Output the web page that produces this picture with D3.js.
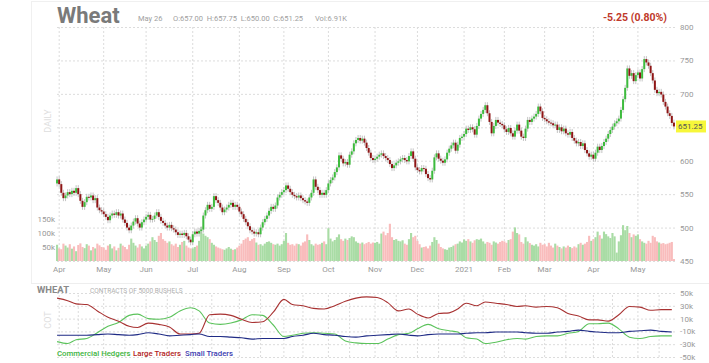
<!DOCTYPE html>
<html>
<head>
<meta charset="utf-8">
<script src="https://cdn.jsdelivr.net/npm/d3@7"></script>
<style>
  body { margin: 0; background: #fff; font-family: Roboto, "Liberation Sans", sans-serif; }
  .grid line { stroke: #dcdcdc; stroke-dasharray: 2,2; }
  .grid path { display: none; }
  .lbl path, .lbl line { display: none; }
  .lbl text { fill: #999; font-size: 8px; font-family: Roboto, sans-serif; }
</style>
</head>
<body>
<script>
const width = 709;
const height = 363;

// trading calendar
const firstDay = "2020-03-31";
const lastDay = "2021-05-26";
const holidays = ["2020-04-10", "2020-05-25", "2020-07-03", "2020-09-07", "2020-11-26",
  "2020-12-25", "2021-01-01", "2021-01-18", "2021-02-15", "2021-04-02"];
const monthLabels = ["Apr", "May", "Jun", "Jul", "Aug", "Sep", "Oct", "Nov", "Dec", "2021", "Feb", "Mar", "Apr", "May"];

// daily closes, month by month
const closes = [
  572,565,552,544,548,553,550,555,552,559,550,540,531,538,546,545,548,541,544,530,526,524, // Apr
  520,516,511,518,521,519,523,518,521,512,507,500,496,503,509,514,506,500,508,512,          // May
  516,519,512,513,518,523,516,510,507,503,500,504,499,497,493,489,491,489,492,487,482,478,  // Jun
  490,494,491,495,497,518,526,534,528,531,547,541,537,530,523,527,530,534,537,531,534,531,  // Jul
  524,520,513,508,502,496,494,491,493,490,500,508,513,518,525,531,528,533,545,549,553,      // Aug
  556,563,558,553,549,547,545,548,544,541,539,537,545,552,572,561,556,549,552,549,556,      // Sep
  566,571,575,583,590,608,603,596,598,594,609,614,626,631,634,630,633,627,619,612,604,601,  // Oct
  603,606,609,611,607,604,601,595,589,593,597,599,602,604,601,599,607,614,603,590,          // Nov
  586,584,589,588,580,574,572,585,605,611,603,600,597,602,612,618,623,627,615,624,634,636,  // Dec
  640,648,646,650,647,639,652,663,670,676,683,671,658,641,652,661,657,655,653,              // Jan
  647,643,649,641,636,645,654,645,636,634,648,661,658,663,666,670,681,674,664,              // Feb
  662,659,657,656,653,654,646,650,644,648,641,639,643,634,630,626,628,622,626,616,611,606,609, // Mar
  603,612,621,616,622,628,633,640,646,651,656,659,663,676,692,709,738,727,731,719,728,      // Apr
  732,723,737,752,747,742,731,720,706,701,703,699,688,681,671,667,656.5,651.25              // May
];
const firstOpen = 566;
const lastOpen = 657;

// daily volume, thousands of contracts
const volumes = [
  58,45,42,62,55,48,60,44,52,35,57,63,50,46,60,55,38,50,45,62,56,50,
  48,40,55,60,45,52,38,47,62,55,50,42,58,80,65,55,48,60,52,45,
  55,62,70,85,75,68,90,100,78,72,65,70,60,55,62,50,58,68,72,55,48,45,
  45,50,55,72,122,98,90,85,78,65,58,52,48,45,42,40,45,50,44,40,42,48,
  55,62,75,80,85,72,78,82,66,58,60,55,62,68,70,65,60,58,62,55,60,
  72,100,65,58,60,55,62,60,55,66,70,95,75,60,55,62,58,60,65,70,60,
  117,80,70,75,85,95,78,72,80,75,82,88,85,70,65,62,66,60,64,68,62,66,
  65,68,62,98,105,92,100,133,85,75,78,72,70,74,62,58,78,100,85,90,
  72,60,48,50,52,45,55,68,85,75,62,50,45,42,40,48,50,55,60,62,70,66,
  77,72,78,70,65,74,78,76,80,70,62,68,65,58,70,66,62,68,72,
  70,65,75,78,105,120,100,95,68,62,85,70,64,58,55,60,52,65,58,
  60,52,65,55,48,62,55,50,45,52,48,55,50,46,52,48,60,65,58,62,68,90,72,
  78,85,105,92,80,105,96,88,82,100,88,30,70,92,128,110,125,100,85,95,90,
  95,78,70,65,62,72,65,90,85,70,66,62,64,60,62,65,68,6.91
];

// weekly COT net positions (thousands), Tuesdays from 2020-03-31
const cotStart = "2020-03-31";
const commercial = [-26,-29,-23,-21,-12,-2,4,15,17,10, 9,12,22,27,22,3,1,3,8,16,
  15,0,-18,-16,-13,-12,-13,-14,-25,-28, -29,-29,-22,-15,-13,-6,1,-6,-9,-11,
  -20,-22,-29,-27,-23,-21,-22,-18,-17,-17, -13,-10,2,2,3,-6,-19,-21,-18,-17, -17];
const large = [42,38,33,32,22,12,6,-2,-4,3, 1,-3,-14,-14,-13,16,17,15,9,4,
  5,20,40,32,30,26,25,30,37,42, 44,43,35,22,25,17,11,18,19,25,
  34,30,36,34,32,29,30,28,29,27, 18,14,8,8,6,16,29,28,23,24, 24];
const small = [-16,-16,-16,-16,-15,-14,-15,-16,-15,-12, -14,-17,-16,-15,-14,-18,-18,-19,-20,-22,
  -21,-21,-21,-18,-16,-13,-15,-16,-18,-19, -17,-16,-15,-14,-16,-17,-15,-14,-14,-14,
  -13,-12,-12,-11,-11,-11,-12,-13,-13,-11, -10,-8,-10,-11,-12,-12,-10,-9,-8,-10, -11];

const priceTicks = [450, 500, 550, 600, 650, 700, 750, 800];
const volumeTicks = [50, 100, 150];
const cotTicks = [-50, -30, -10, 10, 30, 50];

const quote = { date: "May 26", ohlc: "O:657.00  H:657.75  L:650.00  C:651.25", vol: "Vol:6.91K", change: "-5.25 (0.80%)" };

const fmt = d3.utcFormat("%Y-%m-%d");
const dates = d3.utcDays(new Date(firstDay), d3.utcDay.offset(new Date(lastDay), 1))
  .filter(d => d.getUTCDay() > 0 && d.getUTCDay() < 6 && !holidays.includes(fmt(d)))
  .map(fmt);

const n = Math.min(closes.length, dates.length);
const candles = d3.range(n).map(i => {
  const open = i === 0 ? firstOpen : (i === n - 1 ? lastOpen : closes[i - 1]);
  return { i, open, close: closes[i], vol: volumes[i], up: closes[i] >= open };
});
const last = closes[n - 1];

const svg = d3.select("body")
  .append("svg")
  .attr("width", width)
  .attr("height", height);

const x = d3.scaleBand().domain(d3.range(n)).range([56, 675]);
const cx = i => x(i) + x.bandwidth() / 2;
const yPrice = d3.scaleLinear().domain([450, 800]).range([261, 27]);
const yVol = d3.scaleLinear().domain([0, 150]).range([261, 219]);
const yCot = d3.scaleLinear().domain([-50, 50]).range([357, 293]);

// frame
svg.append("line").attr("x1", 31).attr("x2", width).attr("y1", 1.5).attr("y2", 1.5).attr("stroke", "#f0f0f0");
svg.append("line").attr("x1", 31.5).attr("x2", 31.5).attr("y1", 1).attr("y2", 283).attr("stroke", "#f0f0f0");
svg.append("line").attr("x1", 31).attr("x2", width).attr("y1", 283.5).attr("y2", 283.5).attr("stroke", "#eeeeee");

// month positions: first trading day of each month after the opening day
const monthStarts = [];
dates.slice(0, n).forEach((d, i) => {
  const m = d.slice(0, 7);
  if (m !== "2020-03" && !monthStarts.some(s => s.m === m)) monthStarts.push({ m, i });
});
const monthIdx = monthStarts.map(s => s.i);

// price grid
svg.append("g").attr("class", "grid")
  .attr("transform", "translate(57,0)")
  .call(d3.axisLeft(yPrice).tickValues(priceTicks).tickSize(-618).tickFormat(""));
svg.append("g").attr("class", "grid")
  .attr("transform", "translate(0,261)")
  .call(d3.axisBottom(x).tickValues(monthIdx).tickSize(-234).tickFormat(""))
  .selectAll(".tick").attr("transform", d => `translate(${cx(d)},0)`);

// volume
svg.append("g").selectAll("rect")
  .data(candles)
  .enter()
  .append("rect")
  .attr("x", d => x(d.i))
  .attr("width", x.bandwidth())
  .attr("y", d => yVol(d.vol))
  .attr("height", d => yVol(0) - yVol(d.vol))
  .attr("fill", d => d.up ? "#a9dca5" : "#f9bcbc");

// candles
const cg = svg.append("g");
cg.selectAll("line")
  .data(candles)
  .enter()
  .append("line")
  .attr("x1", d => cx(d.i))
  .attr("x2", d => cx(d.i))
  .attr("y1", d => yPrice(Math.max(d.open, d.close)) - 3)
  .attr("y2", d => yPrice(Math.min(d.open, d.close)) + 3)
  .attr("stroke", "#b5b5b5")
  .attr("stroke-width", 0.8);
cg.selectAll("rect")
  .data(candles)
  .enter()
  .append("rect")
  .attr("x", d => cx(d.i) - 1)
  .attr("width", 2)
  .attr("y", d => yPrice(Math.max(d.open, d.close)))
  .attr("height", d => Math.max(1, Math.abs(yPrice(d.open) - yPrice(d.close))))
  .attr("fill", d => d.up ? "#3dbb3d" : "#8e1515");

// axes labels (the last-price tag covers the 650 label)
svg.append("g").attr("class", "lbl")
  .attr("transform", "translate(680,0)")
  .call(d3.axisRight(yPrice).tickValues(priceTicks.filter(t => Math.abs(t - last) > 10)).tickSize(0).tickPadding(0));
svg.append("g").attr("class", "lbl")
  .attr("transform", "translate(55,0)")
  .call(d3.axisLeft(yVol).tickValues(volumeTicks).tickSize(0).tickPadding(0).tickFormat(d => d + "k"));
svg.append("g").attr("class", "lbl")
  .attr("transform", "translate(0,264)")
  .call(d3.axisBottom(x).tickValues(monthIdx).tickSize(0).tickPadding(2).tickFormat((d, k) => monthLabels[k]))
  .selectAll(".tick").attr("transform", d => `translate(${cx(d)},0)`);

// last price tag
svg.append("rect").attr("x", 676).attr("y", yPrice(last) - 6).attr("width", 30).attr("height", 12).attr("fill", "#f7f73a");
svg.append("text").attr("x", 678).attr("y", yPrice(last) + 3).attr("font-size", 8).attr("fill", "#555").text(last.toFixed(2));

// header
svg.append("text").attr("x", 57).attr("y", 23).attr("font-size", 22).attr("font-weight", "bold").attr("fill", "#7a7a7a").text("Wheat");
svg.append("text").attr("x", 138).attr("y", 21).attr("font-size", 7.5).attr("fill", "#a0a0a0").text(quote.date);
svg.append("text").attr("x", 173).attr("y", 21).attr("font-size", 7.5).attr("fill", "#a0a0a0").attr("xml:space", "preserve").text(quote.ohlc);
svg.append("text").attr("x", 315).attr("y", 21).attr("font-size", 7.5).attr("fill", "#a0a0a0").text(quote.vol);
svg.append("text").attr("x", 667).attr("y", 21).attr("text-anchor", "end").attr("font-size", 10.5).attr("font-weight", "bold").attr("fill", "#c0392b").text(quote.change);
svg.append("text").attr("transform", "translate(51,121) rotate(-90)").attr("text-anchor", "middle")
  .attr("font-size", 9).attr("fill", "#dddddd").text("DAILY");

// COT panel
const cotDates = d3.range(commercial.length).map(k => fmt(d3.utcDay.offset(new Date(cotStart), 7 * k)));
const cotX = cotDates.map(d => {
  let i = dates.indexOf(d);
  if (i < 0) i = d3.bisectLeft(dates, d);
  return cx(Math.min(i, n - 1));
});

svg.append("g").attr("class", "grid")
  .attr("transform", "translate(57,0)")
  .call(d3.axisLeft(yCot).tickValues(cotTicks).tickSize(-618).tickFormat(""));
const halfMonths = [];
monthStarts.forEach(s => {
  halfMonths.push(s.i);
  const mid = dates.findIndex(d => d >= s.m + "-15");
  if (mid >= 0 && mid < n) halfMonths.push(mid);
});
svg.append("g").attr("class", "grid")
  .attr("transform", "translate(0,357)")
  .call(d3.axisBottom(x).tickValues(halfMonths).tickSize(-64).tickFormat(""))
  .selectAll(".tick").attr("transform", d => `translate(${cx(d)},0)`);

const cotSeries = [
  { name: "Commercial Hedgers", values: commercial, color: "#5cc35c", text: "#3db33d" },
  { name: "Large Traders", values: large, color: "#a83232", text: "#b22222" },
  { name: "Small Traders", values: small, color: "#1f2b85", text: "#3b3bb0" }
];
const line = d3.line().x((d, k) => cotX[k]).y(d => yCot(d)).curve(d3.curveMonotoneX);
svg.append("g").selectAll("path")
  .data(cotSeries)
  .enter()
  .append("path")
  .attr("d", d => line(d.values))
  .attr("fill", "none")
  .attr("stroke", d => d.color)
  .attr("stroke-width", 1.1);

svg.append("g").attr("class", "lbl")
  .attr("transform", "translate(680,0)")
  .call(d3.axisRight(yCot).tickValues(cotTicks).tickSize(0).tickPadding(0).tickFormat(d => d + "k"));

svg.append("text").attr("x", 37).attr("y", 293).attr("font-size", 9.5).attr("font-weight", "bold").attr("fill", "#8a8a8a").text("WHEAT");
svg.append("text").attr("x", 90).attr("y", 293).attr("font-size", 6.5).attr("fill", "#b0b0b0").text("CONTRACTS OF 5000 BUSHELS");
svg.append("text").attr("transform", "translate(51,320) rotate(-90)").attr("text-anchor", "middle")
  .attr("font-size", 9).attr("fill", "#dddddd").text("COT");

const legendX = [57, 133, 185];
svg.append("g").selectAll("text")
  .data(cotSeries)
  .enter()
  .append("text")
  .attr("x", (d, k) => legendX[k])
  .attr("y", 356)
  .attr("font-size", 7.8)
  .attr("font-weight", 500)
  .attr("fill", d => d.text)
  .text(d => d.name);
</script>
</body>
</html>
